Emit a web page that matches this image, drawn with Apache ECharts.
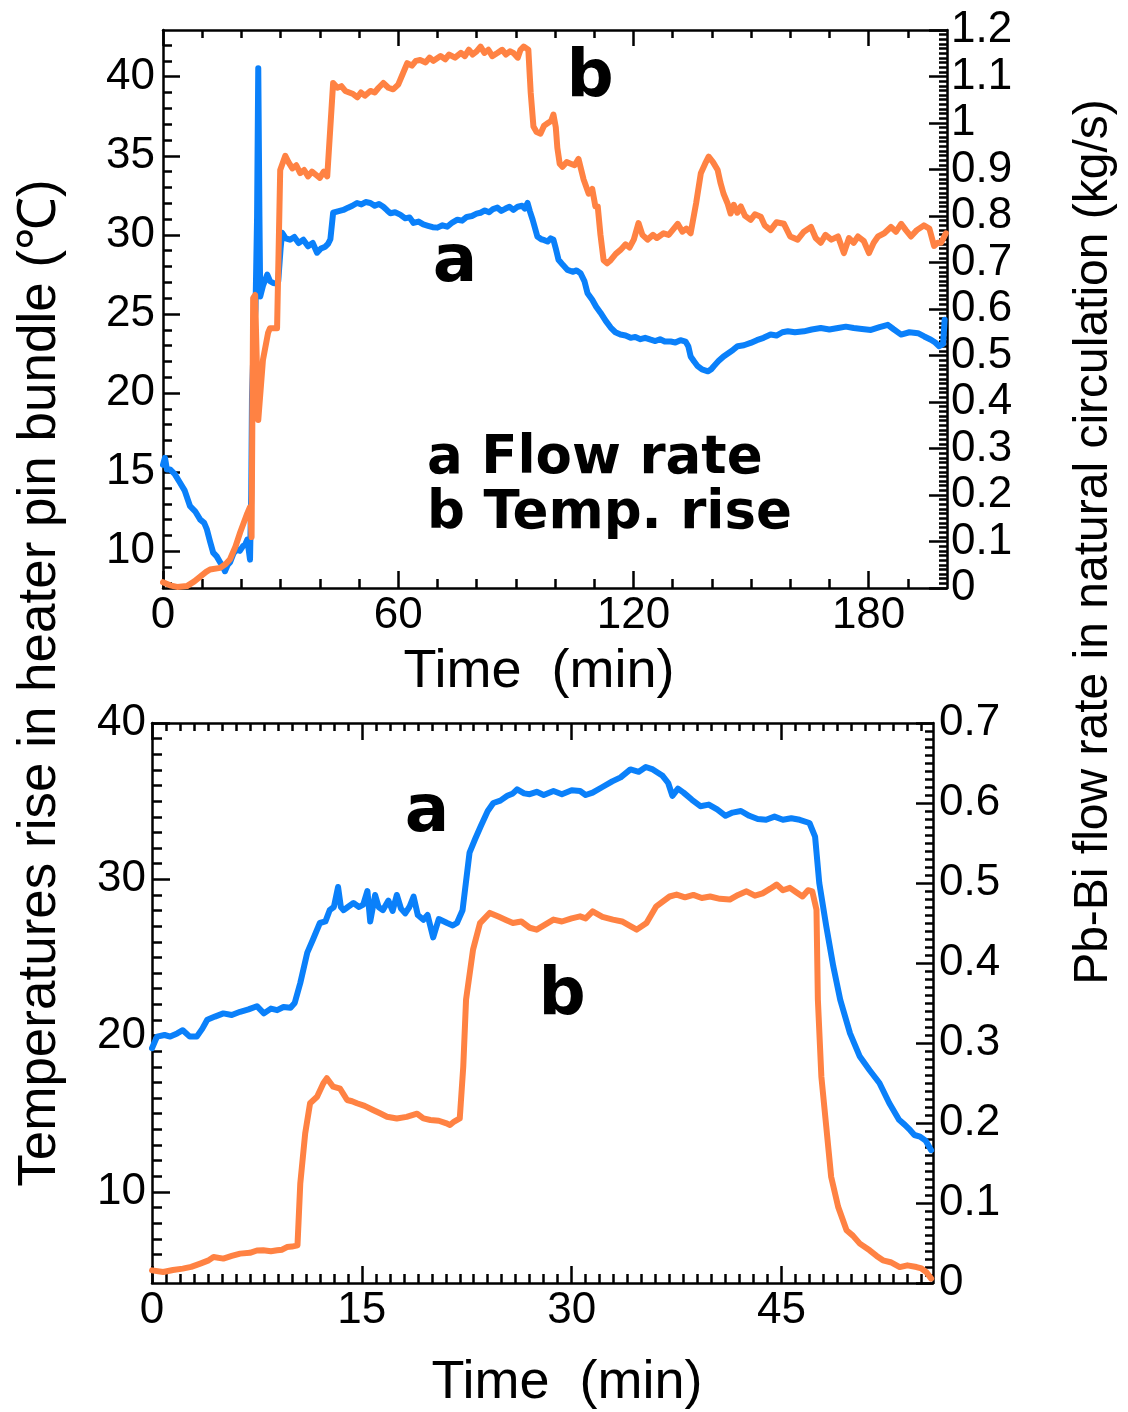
<!DOCTYPE html>
<html><head><meta charset="utf-8">
<script src="https://cdn.jsdelivr.net/npm/echarts@6/dist/echarts.min.js"></script>
<style>html,body{margin:0;padding:0;background:#fff}#c{width:1128px;height:1412px}</style>
</head><body><div id="c"></div>
<script>
// ---------- Top chart data (time in min) ----------
const topFlowTime = [0,0.5,1.0,1.8,3,4.3,5.5,6.9,8.2,9.5,10.5,11.2,12,12.8,13.7,14.6,15.2,15.8,16.5,17.1,18.0,18.9,19.6,20.4,21.0,21.5,21.9,22.2,22.5,22.7,23.2,23.6,24.0,24.3,24.6,24.8,25.5,26.6,27.3,28.1,29.0,29.4,30.0,30.4,31.3,32.4,33.5,34.6,35.8,37,38.2,39.3,40.3,41.4,42.1,42.7,43.4,44.6,46.0,47.2,48.3,49.5,50.6,51.7,52.9,54.0,55.1,56.2,57.2,58.0,59.2,60.5,61.8,62.9,63.9,65.2,66.4,67.6,68.8,70.0,71.3,72.5,73.8,75.1,76.3,77.5,78.8,80,81.0,82.1,83.2,84.2,85.3,86.3,87.4,88.4,89.4,90.5,91.6,92.3,93.0,93.6,94.3,95.5,96.5,97.3,98.1,98.9,99.6,100.2,100.9,102,103.2,104.5,105.5,106.5,107.5,108.3,109.5,110.5,111.6,112.9,114.2,115.4,116.7,118,119.3,120.5,121.8,123,124.4,125.6,126.8,128,129.5,130.7,132,133.3,134,134.6,135.5,136.4,137.5,139.0,139.8,140.5,141.7,143.0,144.2,145.4,146.6,148.2,149.9,151.5,153.2,155.0,156.5,158,159.4,161.2,163.5,165.5,167.8,170,172.2,174.2,176.2,178.3,180.6,182.8,184.9,186.3,188.3,190.4,192.6,194.2,195.9,197.0,198.0,199.0,199.4];
const topFlowValue = [0.265,0.28,0.255,0.255,0.245,0.227,0.21,0.176,0.165,0.147,0.14,0.126,0.10,0.076,0.068,0.055,0.048,0.036,0.05,0.055,0.075,0.083,0.08,0.09,0.094,0.104,0.08,0.061,0.2,0.41,0.55,0.60,0.8,1.118,0.8,0.627,0.65,0.674,0.66,0.656,0.655,0.66,0.73,0.764,0.752,0.749,0.755,0.742,0.749,0.735,0.742,0.721,0.73,0.734,0.74,0.75,0.807,0.81,0.813,0.818,0.822,0.828,0.825,0.83,0.828,0.822,0.826,0.82,0.812,0.806,0.808,0.803,0.795,0.797,0.785,0.788,0.782,0.779,0.776,0.775,0.78,0.777,0.786,0.792,0.79,0.798,0.8,0.805,0.807,0.812,0.808,0.815,0.818,0.811,0.816,0.82,0.813,0.82,0.822,0.816,0.828,0.81,0.792,0.756,0.75,0.748,0.745,0.752,0.749,0.73,0.706,0.695,0.684,0.68,0.683,0.677,0.66,0.634,0.62,0.605,0.592,0.575,0.56,0.55,0.545,0.543,0.538,0.54,0.535,0.538,0.534,0.531,0.535,0.53,0.53,0.528,0.533,0.530,0.52,0.498,0.487,0.477,0.47,0.466,0.47,0.477,0.488,0.498,0.505,0.512,0.520,0.522,0.527,0.533,0.538,0.545,0.543,0.55,0.552,0.55,0.552,0.556,0.559,0.556,0.559,0.562,0.559,0.557,0.555,0.561,0.566,0.557,0.545,0.55,0.548,0.541,0.534,0.528,0.520,0.525,0.577];
const topTempTime = [0,1.8,3.6,6.1,8,9.5,11,12,14.6,16,17.1,18.5,19.7,21.5,22.2,22.6,23.0,23.5,24.3,25.5,26.8,27.3,29.1,29.9,31.2,32,33,34,35,36,37,38,39,40,41,41.9,43.4,44.5,45.5,46.5,47.5,48.5,49.6,50.5,51.5,52.9,54,55,56.2,57.5,58.7,60,61.2,62.3,63.5,64.5,65.6,67,68,69,70.8,72,73,74.5,76,77,78,79,80,81,82,83,84,85.3,86.5,87.5,88.5,89.4,90.5,91.2,92,93.2,93.8,94.5,95.3,96.3,97.2,98.1,99.0,99.6,100.2,100.6,101.2,101.9,103,104.0,105,106.0,106.5,107.3,108.6,109.5,110.3,110.9,111.6,112.4,113.3,114.2,115.5,116.7,118,119,120.1,121.3,122.3,123.6,125,126,127.7,129,130,131.3,132.5,133.5,134.6,136,137.2,138.3,139.2,140.3,141.5,142.2,143.0,144,144.8,145.6,146.5,147.4,148.5,149.9,151,152.5,153.5,155.0,156.5,158.4,160,161.9,163.5,165.3,166.5,167.8,169,170.5,172.2,173.7,175,176.2,177.3,178.8,180.1,181.3,182.4,184,185.7,187,188.3,189.5,190.8,192.3,194.1,195.5,196.7,197.6,198.5,199.7];
const topTempValue = [8.05,7.85,7.75,7.8,8.1,8.4,8.7,8.85,8.95,9.2,9.5,10.3,11.2,12.4,12.8,10.9,26.0,26.2,18.3,22.1,23.8,24.1,24.1,34.1,35.0,34.6,34.2,34.4,33.9,34.1,33.7,34.0,33.8,33.6,34.0,33.7,39.6,39.3,39.4,39.1,39.0,38.9,38.7,39.0,38.8,39.1,39.0,39.3,39.6,39.3,39.2,39.5,40.2,40.85,40.7,41.0,41.05,40.9,41.2,41.0,41.3,41.1,41.4,41.2,41.5,41.3,41.7,41.4,41.6,41.9,41.5,41.7,41.3,41.5,41.7,41.4,41.6,41.5,41.2,41.7,41.9,41.7,39.0,36.85,36.5,36.4,36.9,37.05,37.2,37.6,36.8,35.5,34.5,34.3,34.6,34.5,34.4,34.8,34.7,33.5,32.6,32.9,31.8,31.8,30.0,28.4,28.2,28.4,28.8,29.05,29.4,29.2,29.7,30.75,30.0,29.7,30.0,29.8,30.1,30.0,30.3,30.7,30.2,30.4,30.1,32.0,33.9,34.5,34.95,34.6,34.1,33.3,32.6,32.0,31.35,31.9,31.4,31.8,31.2,30.95,31.3,31.15,30.6,30.3,30.8,30.7,29.9,29.7,30.2,30.5,29.8,29.5,30.0,29.7,29.9,28.85,29.8,29.5,29.9,29.6,28.85,29.5,29.9,30.1,30.5,30.2,30.7,30.3,29.9,30.3,30.6,30.4,29.3,29.5,29.5,30.1];

// ---------- Bottom chart data ----------
const botFlowTime = [0,0.36,0.9,1.3,1.8,2.2,2.7,3.2,3.6,3.95,4.5,5.1,5.7,6.3,6.9,7.5,8.0,8.5,8.95,9.4,9.9,10.2,10.6,11.1,11.5,12.0,12.4,12.7,13.0,13.3,13.5,13.7,14.0,14.4,14.8,15.1,15.4,15.6,15.95,16.2,16.5,16.9,17.2,17.5,17.8,18.1,18.4,18.7,19.0,19.4,19.7,20.1,20.5,21.1,21.5,21.8,22.2,22.7,23.1,23.5,24.0,24.4,24.9,25.4,25.8,26.1,26.6,27.0,27.5,28.0,28.7,29.3,30.0,30.6,31.0,31.5,32.2,32.9,33.5,34.2,34.8,35.3,35.8,36.5,36.9,37.2,37.6,38.0,38.6,39.2,39.8,40.4,41.0,41.5,42.1,42.7,43.3,43.9,44.5,45.1,45.7,46.3,47.0,47.4,47.7,48.2,48.7,49.2,49.9,50.6,51.3,52.0,52.7,53.4,53.8,54.2,54.5,54.9,55.3,55.7];
const botFlowValue = [0.2935,0.308,0.31,0.308,0.312,0.316,0.308,0.308,0.318,0.329,0.333,0.337,0.335,0.339,0.342,0.346,0.337,0.343,0.341,0.345,0.344,0.350,0.375,0.413,0.429,0.450,0.452,0.466,0.47,0.495,0.47,0.466,0.47,0.475,0.47,0.473,0.490,0.452,0.485,0.47,0.466,0.478,0.465,0.485,0.468,0.462,0.47,0.483,0.46,0.454,0.46,0.432,0.455,0.450,0.447,0.450,0.466,0.538,0.555,0.571,0.59,0.600,0.603,0.609,0.612,0.617,0.612,0.611,0.614,0.61,0.615,0.611,0.616,0.615,0.61,0.613,0.62,0.627,0.632,0.642,0.639,0.645,0.642,0.634,0.625,0.609,0.618,0.613,0.604,0.596,0.598,0.592,0.584,0.588,0.59,0.584,0.58,0.579,0.583,0.579,0.581,0.579,0.575,0.558,0.500,0.446,0.396,0.354,0.312,0.283,0.266,0.250,0.225,0.204,0.198,0.191,0.185,0.183,0.178,0.166];
const botTempTime = [0,0.8,1.5,2.2,2.8,3.45,4.0,4.4,5.1,5.7,6.3,7.0,7.5,7.95,8.5,8.95,9.3,9.65,10.0,10.4,10.6,10.95,11.3,11.8,12.25,12.5,12.95,13.45,13.95,14.3,14.65,15.2,15.8,16.3,16.8,17.5,18.2,18.95,19.4,19.9,20.5,21.0,21.3,21.6,22.0,22.25,22.45,22.95,23.45,24.15,24.8,25.3,25.8,26.4,27.0,27.5,28.1,28.7,29.3,30.0,30.6,31.0,31.5,32.2,32.95,33.6,34.2,34.65,35.35,36.05,37.0,37.5,38.1,38.7,39.3,39.9,40.6,41.3,41.9,42.5,43.1,43.65,44.2,44.65,45.1,45.6,46.0,46.5,46.9,47.2,47.5,47.6,47.85,48.2,48.55,49.05,49.65,50.1,50.6,51.3,51.8,52.25,52.8,53.45,54.0,54.65,55.0,55.35,55.7];
const botTempValue = [4.98,4.87,5.0,5.09,5.2,5.41,5.6,5.83,5.73,5.9,6.05,6.1,6.25,6.26,6.2,6.26,6.3,6.47,6.5,6.58,10.54,13.74,15.67,16.09,16.95,17.27,16.73,16.6,15.88,15.8,15.67,15.5,15.24,15.03,14.81,14.7,14.8,15.0,14.7,14.6,14.55,14.4,14.28,14.5,14.7,18.0,22.3,25.5,27.2,27.85,27.6,27.4,27.2,27.3,26.9,26.78,27.1,27.42,27.3,27.5,27.63,27.5,27.95,27.6,27.42,27.3,27.0,26.78,27.2,28.27,28.9,29.02,28.85,29.0,28.8,28.9,28.75,28.7,29.0,29.23,28.95,29.1,29.4,29.66,29.3,29.45,29.2,28.9,29.3,29.23,28.06,22.3,17.37,14.17,10.96,9.04,7.54,7.2,6.69,6.26,5.9,5.62,5.5,5.19,5.3,5.19,5.1,4.87,4.45];

// ---------- Tick labels ----------
const topXLabels = [0, 60, 120, 180];
const topLeftLabels = [10, 15, 20, 25, 30, 35, 40];
const topRightLabels = [0, 0.1, 0.2, 0.3, 0.4, 0.5, 0.6, 0.7, 0.8, 0.9, 1, 1.1, 1.2];
const botXLabels = [0, 15, 30, 45];
const botLeftLabels = [10, 20, 30, 40];
const botRightLabels = [0, 0.1, 0.2, 0.3, 0.4, 0.5, 0.6, 0.7];

// minor tick positions
function steps(a, b, step, dec, exclude) {
  const out = [];
  const n = Math.round((b - a) / step);
  for (let i = 0; i <= n; i++) {
    const v = Math.round((a + i * step) * Math.pow(10, dec)) / Math.pow(10, dec);
    if (!exclude.some(e => Math.abs(e - v) < 1e-9)) out.push(v);
  }
  return out;
}
const topXMinor = steps(10, 190, 10, 0, topXLabels);
const topLeftMinor = steps(8, 42, 1, 0, topLeftLabels);
const topRightMinor = steps(0.01, 1.19, 0.01, 2, topRightLabels);
const botXMinor = steps(1, 55, 1, 0, botXLabels);
const botLeftMinor = steps(5, 39, 1, 0, botLeftLabels);
const botRightMinor = steps(0.01, 0.69, 0.01, 2, botRightLabels);

const FONT = 'Liberation Sans, Arial, sans-serif';
const BOLD = 'DejaVu Sans, sans-serif';
const BLUE = '#0a80fa', ORANGE = '#ff8243';
const LW = 2.5;

function axis(grid, pos, min, max, ticks, len, labels, showLine, margin) {
  return {
    type: 'value', gridIndex: grid, position: pos, min: min, max: max,
    axisLine: { show: showLine, onZero: false, lineStyle: { color: '#000', width: LW } },
    axisTick: { show: true, inside: true, length: len, customValues: ticks, lineStyle: { color: '#000', width: LW } },
    axisLabel: labels ? { show: true, customValues: labels, fontSize: 44, fontFamily: FONT, color: '#000', margin: margin } : { show: false },
    splitLine: { show: false }
  };
}
const TOP = { xmin: 0, xmax: 200, lmin: 7.68, lmax: 42.95, rmin: 0, rmax: 1.2 };
const BOT = { xmin: 0, xmax: 55.83, lmin: 4.17, lmax: 40, rmin: 0, rmax: 0.7 };

const grids = [
  { left: 163, top: 30, width: 784, height: 558 },
  { left: 163, top: 30, width: 784, height: 558 },
  { left: 152, top: 723, width: 781, height: 560 },
  { left: 152, top: 723, width: 781, height: 560 }
];
const xAxes = [
  axis(0, 'bottom', TOP.xmin, TOP.xmax, topXLabels, 17, topXLabels, true, 6),
  axis(0, 'top', TOP.xmin, TOP.xmax, topXLabels, 16, null, true),
  axis(1, 'bottom', TOP.xmin, TOP.xmax, topXMinor, 9, null, false),
  axis(1, 'top', TOP.xmin, TOP.xmax, topXMinor, 8, null, false),
  axis(2, 'bottom', BOT.xmin, BOT.xmax, botXLabels, 17, botXLabels, true, 6),
  axis(2, 'top', BOT.xmin, BOT.xmax, botXLabels, 17, null, true),
  axis(3, 'bottom', BOT.xmin, BOT.xmax, botXMinor, 9, null, false),
  axis(3, 'top', BOT.xmin, BOT.xmax, botXMinor, 8, null, false)
];
const yAxes = [
  axis(0, 'left', TOP.lmin, TOP.lmax, topLeftLabels, 17, topLeftLabels, true, 8),
  axis(0, 'right', TOP.rmin, TOP.rmax, topRightLabels, 18, topRightLabels, true, 4),
  axis(1, 'left', TOP.lmin, TOP.lmax, topLeftMinor, 9, null, false),
  axis(1, 'right', TOP.rmin, TOP.rmax, topRightMinor, 8, null, false),
  axis(2, 'left', BOT.lmin, BOT.lmax, botLeftLabels, 18, botLeftLabels, true, 6),
  axis(2, 'right', BOT.rmin, BOT.rmax, botRightLabels, 17, botRightLabels, true, 6),
  axis(3, 'left', BOT.lmin, BOT.lmax, botLeftMinor, 10, null, false),
  axis(3, 'right', BOT.rmin, BOT.rmax, botRightMinor, 8, null, false)
];

function pairs(t, v) { return t.map((x, i) => [x, v[i]]); }
function line(data, color, xi, yi) {
  return { type: 'line', xAxisIndex: xi, yAxisIndex: yi, data: data, showSymbol: false, symbol: 'none',
    lineStyle: { color: color, width: 6, cap: 'round', join: 'round' }, itemStyle: { color: color }, silent: true };
}
const series = [
  line(pairs(topFlowTime, topFlowValue), BLUE, 0, 1),
  line(pairs(topTempTime, topTempValue), ORANGE, 0, 0),
  line(pairs(botFlowTime, botFlowValue), BLUE, 4, 5),
  line(pairs(botTempTime, botTempValue), ORANGE, 4, 4)
];

function txt(x, y, text, size, opts) {
  opts = opts || {};
  return { type: 'text', x: x, y: y, rotation: opts.rot || 0, z: 100,
    style: { text: text, fontSize: size, fontFamily: opts.family || FONT, fontWeight: opts.weight || 'normal',
      fill: '#000', align: opts.align || 'center', verticalAlign: 'middle' } };
}
const graphic = [
  txt(539, 672, 'Time  (min)', 54),
  txt(567, 1383, 'Time  (min)', 54),
  txt(40, 683, 'Temperatures rise in heater pin bundle (\u2103)', 53, { rot: Math.PI / 2 }),
  txt(1094, 542, 'Pb-Bi flow rate in natural circulation (kg/s)', 48, { rot: Math.PI / 2 }),
  txt(590, 79, 'b', 66, { family: BOLD, weight: 'bold' }),
  txt(455, 264, 'a', 66, { family: BOLD, weight: 'bold' }),
  txt(427, 459, 'a Flow rate', 53, { family: BOLD, weight: 'bold', align: 'left' }),
  txt(427, 514, 'b Temp. rise', 53, { family: BOLD, weight: 'bold', align: 'left' }),
  txt(427, 814, 'a', 66, { family: BOLD, weight: 'bold' }),
  txt(562, 997, 'b', 66, { family: BOLD, weight: 'bold' })
];

const chart = echarts.init(document.getElementById('c'), null, { renderer: 'canvas' });
chart.setOption({
  animation: false, backgroundColor: '#fff',
  grid: grids, xAxis: xAxes, yAxis: yAxes, series: series, graphic: graphic
});
</script></body></html>
